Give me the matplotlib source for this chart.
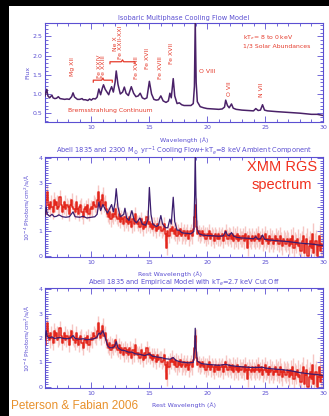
import numpy as np
import matplotlib
matplotlib.use("Agg")
import matplotlib.pyplot as plt
from matplotlib.patches import Rectangle
from matplotlib.ticker import MultipleLocator, FixedLocator

# ---------------- data ----------------
# Panel 1: isobaric multiphase cooling flow model (vertices)
lam1 = [6.0, 6.08, 6.15, 6.25, 6.4, 6.6, 6.7, 6.85, 7.0, 7.15,
        7.3, 7.5, 7.7, 7.9, 8.1, 8.3, 8.42, 8.55, 8.8, 9.0,
        9.2, 9.3, 9.5, 9.7, 9.85, 10.0, 10.15, 10.35, 10.5, 10.65,
        10.8, 10.95, 11.05, 11.2, 11.35, 11.5, 11.6, 11.75, 11.9, 12.05,
        12.15, 12.3, 12.5, 12.7, 12.85, 13.0, 13.2, 13.45, 13.65, 13.85,
        14.05, 14.22, 14.4, 14.6, 14.8, 15.01, 15.2, 15.4, 15.6, 15.8,
        16.0, 16.2, 16.45, 16.65, 16.78, 16.9, 17.07, 17.2, 17.4, 17.6,
        17.8, 18.0, 18.3, 18.6, 18.8, 18.9, 18.97, 19.05, 19.15, 19.4,
        19.7, 20.0, 20.5, 21.0, 21.3, 21.5, 21.6, 21.75, 21.9, 22.1,
        22.25, 22.5, 23.0, 23.5, 24.0, 24.2, 24.4, 24.6, 24.78, 24.95,
        25.2, 26.0, 27.0, 28.0, 29.0, 29.5, 30.0]
flux1 = [0.95, 1.05, 1.12, 0.95, 0.90, 0.97, 0.90, 0.88, 0.89, 0.93,
         0.88, 0.87, 0.86, 0.87, 0.86, 0.93, 1.03, 0.92, 0.86, 0.86,
         0.88, 0.85, 0.85, 0.83, 0.87, 0.84, 0.88, 0.87, 0.92, 1.13,
         0.98, 1.15, 1.24, 1.12, 1.05, 0.98, 1.08, 1.19, 1.05, 1.30,
         1.60, 1.25, 1.00, 1.05, 1.18, 1.02, 0.96, 1.19, 1.02, 0.93,
         0.95, 1.02, 0.90, 0.87, 0.90, 1.33, 1.00, 0.86, 0.84, 0.85,
         0.95, 0.82, 0.78, 0.82, 1.02, 0.90, 1.40, 0.95, 0.75, 0.77,
         0.72, 0.70, 0.70, 0.70, 0.75, 1.20, 2.90, 1.30, 0.80, 0.67,
         0.64, 0.62, 0.61, 0.60, 0.61, 0.66, 0.84, 0.70, 0.64, 0.74,
         0.63, 0.60, 0.58, 0.57, 0.56, 0.62, 0.57, 0.58, 0.72, 0.58,
         0.56, 0.54, 0.52, 0.50, 0.47, 0.47, 0.44]

# Panel 2: 2300 Msun/yr cooling flow + 8 keV ambient model
lam2 = [6.0, 6.1, 6.2, 6.4, 6.6, 6.8, 7.0, 7.2, 7.5, 7.8,
        8.1, 8.42, 8.6, 9.0, 9.3, 9.6, 10.0, 10.3, 10.5, 10.65,
        10.8, 11.0, 11.2, 11.4, 11.55, 11.75, 11.9, 12.05, 12.15, 12.3,
        12.5, 12.8, 12.9, 13.05, 13.25, 13.5, 13.7, 13.9, 14.2, 14.4,
        14.7, 14.9, 15.01, 15.15, 15.3, 15.6, 15.8, 16.0, 16.15, 16.4,
        16.6, 16.78, 16.9, 17.07, 17.2, 17.4, 17.6, 17.8, 18.0, 18.3,
        18.6, 18.85, 18.92, 18.97, 19.03, 19.12, 19.3, 19.6, 20.0, 20.5,
        21.0, 21.4, 21.6, 21.75, 21.9, 22.1, 22.3, 22.6, 23.0, 23.5,
        24.0, 24.2, 24.4, 24.6, 24.78, 24.95, 25.3, 26.0, 26.5, 27.0,
        27.5, 28.0, 28.5, 29.0, 29.5, 30.0]
model2 = [1.62, 2.00, 1.70, 1.62, 1.70, 1.60, 1.62, 1.68, 1.60, 1.58,
          1.60, 1.80, 1.60, 1.58, 1.62, 1.55, 1.58, 1.60, 1.70, 2.20,
          1.85, 2.10, 1.90, 1.75, 1.90, 2.10, 1.80, 2.20, 2.75, 2.00,
          1.60, 1.70, 1.95, 1.55, 1.45, 1.85, 1.45, 1.35, 1.55, 1.30,
          1.25, 1.50, 2.80, 1.70, 1.30, 1.20, 1.25, 1.65, 1.30, 1.15,
          1.15, 1.50, 1.30, 2.40, 1.40, 1.05, 1.05, 0.95, 0.93, 0.92,
          0.90, 1.00, 2.50, 4.20, 2.50, 1.10, 0.90, 0.85, 0.83, 0.82,
          0.80, 0.82, 1.00, 0.85, 0.82, 0.95, 0.80, 0.75, 0.73, 0.72,
          0.70, 0.78, 0.68, 0.70, 0.85, 0.68, 0.65, 0.62, 0.60, 0.58,
          0.55, 0.52, 0.50, 0.48, 0.45, 0.42]

# Panel 3: empirical model with 2.7 keV cut-off
lam3 = [6.0, 6.1, 6.2, 6.4, 6.6, 6.8, 7.0, 7.3, 7.6, 8.0,
        8.2, 8.42, 8.6, 9.0, 9.3, 9.6, 10.0, 10.3, 10.5, 10.65,
        10.8, 11.0, 11.15, 11.3, 11.45, 11.6, 11.8, 12.0, 12.15, 12.3,
        12.6, 12.9, 13.2, 13.5, 13.8, 14.2, 14.6, 15.01, 15.3, 15.7,
        16.0, 16.4, 16.8, 17.07, 17.3, 17.7, 18.0, 18.4, 18.8, 18.92,
        18.97, 19.03, 19.15, 19.5, 20.0, 20.5, 21.0, 21.6, 22.0, 22.5,
        23.0, 23.5, 24.0, 24.8, 25.0, 25.5, 26.0, 26.5, 27.0, 27.5,
        28.0, 28.5, 29.0, 29.5, 30.0]
model3 = [1.90, 2.30, 2.05, 2.00, 2.05, 1.98, 2.00, 2.02, 1.98, 1.97,
          2.00, 2.10, 1.98, 1.95, 1.97, 1.93, 1.95, 1.98, 2.05, 2.20,
          2.15, 2.30, 2.10, 1.85, 1.65, 1.60, 1.60, 1.65, 1.85, 1.60,
          1.50, 1.48, 1.42, 1.42, 1.35, 1.33, 1.28, 1.35, 1.25, 1.22,
          1.20, 1.15, 1.13, 1.20, 1.08, 1.02, 1.00, 0.98, 1.00, 1.60,
          2.40, 1.60, 1.05, 0.95, 0.92, 0.90, 0.88, 0.92, 0.87, 0.84,
          0.82, 0.80, 0.79, 0.80, 0.77, 0.74, 0.72, 0.70, 0.67, 0.63,
          0.58, 0.55, 0.52, 0.50, 0.46]

# Abell 1835 RGS data (0.1 A bins from 6.0 to 30.0 A), shared by panels 2 and 3
data_start, data_step = 6.0, 0.1
data_flux = [
    1.7, 2.3, 2.6, 2.1, 1.9, 2.2, 2.0, 1.8, 2.3, 2.1,   # 6
    2.2, 1.9, 2.0, 2.4, 2.1, 1.8, 2.0, 2.2, 1.9, 2.1,   # 7
    2.0, 1.7, 2.1, 2.3, 2.0, 1.9, 1.8, 2.2, 1.9, 1.7,   # 8
    2.0, 2.1, 1.8, 1.6, 1.9, 2.0, 1.8, 2.1, 1.7, 1.9,   # 9
    2.0, 1.9, 2.2, 2.1, 2.0, 2.3, 2.6, 2.2, 2.0, 2.3,   # 10
    2.5, 2.1, 2.2, 1.9, 1.7, 1.6, 1.8, 1.5, 1.7, 1.6,   # 11
    1.7, 1.9, 1.6, 1.5, 1.7, 1.4, 1.6, 1.5, 1.3, 1.6,   # 12
    1.4, 1.5, 1.3, 1.6, 1.4, 1.2, 1.5, 1.3, 1.7, 1.4,   # 13
    1.3, 1.4, 1.2, 1.5, 1.3, 1.1, 1.4, 1.2, 1.6, 1.3,   # 14
    1.4, 1.2, 1.3, 1.1, 1.3, 1.2, 1.0, 1.3, 1.1, 1.2,   # 15
    1.2, 1.0, 1.1, 1.3, 0.9, 0.3, 1.0, 0.8, 1.1, 1.0,   # 16
    1.2, 1.0, 0.9, 1.1, 0.8, 1.0, 0.9, 1.1, 0.8, 0.9,   # 17
    1.0, 0.8, 0.9, 1.0, 0.7, 0.9, 1.0, 0.8, 1.1, 1.6,   # 18
    2.1, 1.2, 0.9, 1.0, 0.8, 0.9, 1.0, 0.8, 0.9, 0.7,   # 19
    0.9, 0.8, 1.0, 0.7, 0.9, 0.8, 0.6, 0.9, 0.8, 0.7,   # 20
    0.9, 0.7, 0.8, 0.9, 0.6, 0.8, 1.0, 0.8, 0.7, 0.9,   # 21
    0.8, 0.7, 0.9, 0.6, 0.8, 0.7, 0.9, 0.6, 0.8, 0.7,   # 22
    0.7, 0.8, 0.6, 0.9, 0.7, 0.3, 0.8, 0.7, 0.6, 0.8,   # 23
    0.7, 0.6, 0.8, 0.7, 0.9, 0.6, 0.7, 0.8, 0.5, 0.7,   # 24
    0.9, 0.6, 0.7, 0.5, 0.8, 0.6, 0.7, 0.5, 0.6, 0.8,   # 25
    0.6, 0.7, 0.5, 0.8, 0.6, 0.4, 0.7, 0.6, 0.5, 0.7,   # 26
    0.6, 0.4, 0.7, 0.5, 0.8, 0.3, 0.6, 0.5, 0.7, 0.4,   # 27
    0.5, 0.2, 0.6, 0.8, 0.1, 0.5, 0.7, 0.0, 0.4, 0.6,   # 28
    0.3, 0.9, 0.1, 0.5, 0.6, 0.0, 0.4, 0.8, 0.2, 0.5,   # 29
    0.4]                                                # 30
# typical 1-sigma error per 1 A interval (6..30)
err_per_A = [0.30, 0.28, 0.28, 0.28, 0.30, 0.30, 0.28, 0.28, 0.28, 0.28,
             0.28, 0.30, 0.30, 0.28, 0.30, 0.30, 0.32, 0.32, 0.32, 0.34,
             0.36, 0.38, 0.42, 0.45, 0.45]

titles = ["Isobaric Multiphase Cooling Flow Model",
          r"Abell 1835 and 2300 M$_\odot$ yr$^{-1}$ Cooling Flow+kT$_e$=8 keV Ambient Component",
          r"Abell 1835 and Empirical Model with kT$_e$=2.7 keV Cut Off"]

# ---------------- style ----------------
W, H = 329, 416
BLUE = "#5b4fd2"
PURPLE = "#4a2168"
NAVY = "#3b1d6e"
RED = "#e3261c"
PINK = "#f6c6c3"
LRED = "#e53b2c"

fig = plt.figure(figsize=(W / 100, H / 100), dpi=100)
fig.patch.set_facecolor("white")
fig.add_artist(Rectangle((0, 0), 9 / W, 1, transform=fig.transFigure,
                         facecolor="black", edgecolor="none", zorder=0))
fig.add_artist(Rectangle((0, 1 - 6 / H), 1, 6 / H, transform=fig.transFigure,
                         facecolor="black", edgecolor="none", zorder=0))


def rect(l, t, r, b):
    return [l / W, 1 - b / H, (r - l) / W, (b - t) / H]


def style(ax, ymajor, yminor, ylim):
    ax.set_xlim(6, 30)
    ax.set_ylim(*ylim)
    for s in ax.spines.values():
        s.set_color(BLUE)
        s.set_linewidth(0.8)
    ax.xaxis.set_major_locator(FixedLocator([10, 15, 20, 25, 30]))
    ax.xaxis.set_minor_locator(MultipleLocator(1))
    ax.yaxis.set_major_locator(MultipleLocator(ymajor))
    ax.yaxis.set_minor_locator(MultipleLocator(yminor))
    ax.tick_params(which="both", direction="in", top=True, right=True,
                   colors=BLUE, labelsize=4.5, pad=2, width=0.6)
    ax.tick_params(which="major", length=4)
    ax.tick_params(which="minor", length=2)


# ---------------- panel 1 ----------------
ax1 = fig.add_axes(rect(45, 23, 323, 122))
style(ax1, 0.5, 0.1, (0.27, 2.85))
ax1.yaxis.set_major_formatter(matplotlib.ticker.FormatStrFormatter("%.1f"))
ax1.plot(lam1, flux1, color=PURPLE, lw=1.1, zorder=3)
ax1.set_title(titles[0], color=BLUE, fontsize=4.8, pad=2)
ax1.set_xlabel("Wavelength (Å)", color=BLUE, fontsize=4.5)
ax1.xaxis.set_label_coords(0.5, -0.15)
ax1.set_ylabel("Flux", color=BLUE, fontsize=4.5)
ax1.yaxis.set_label_coords(-0.054, 0.5)

fs = 4.4
rot_labels = [("Mg XII", 8.35, 1.72), ("Fe XXIV", 10.68, 1.72), ("Fe XXIII", 11.08, 1.72),
              ("Ne X", 12.05, 2.31), ("Fe XXII-XXI", 12.53, 2.34), ("Fe XVIII", 13.92, 1.68),
              ("Fe XVII", 14.89, 1.93), ("Fe XVIII", 15.93, 1.68), ("Fe XVII", 16.94, 2.05),
              ("O VII", 21.92, 1.15), ("N VII", 24.71, 1.12)]
for txt, x, y in rot_labels:
    ax1.text(x, y, txt, rotation=90, color=LRED, fontsize=fs, ha="center", va="center")
ax1.text(19.33, 1.58, "O VIII", color=LRED, fontsize=fs, ha="left", va="center")
ax1.text(23.1, 2.46, r"kT$_e$= 8 to 0 keV", color=LRED, fontsize=fs, ha="left", va="center")
ax1.text(23.1, 2.25, "1/3 Solar Abundances", color=LRED, fontsize=fs, ha="left", va="center")
ax1.text(8.0, 0.56, "Bremsstrahlung Continuum", color=LRED, fontsize=fs, ha="left", va="center")
# brackets
for x0, x1, y in [(10.17, 11.81, 1.36), (11.61, 13.77, 1.84)]:
    xm = 0.5 * (x0 + x1)
    ax1.plot([x0, x0, xm - 0.1, xm, xm + 0.1, x1, x1],
             [y - 0.05, y, y, y + 0.05, y, y, y - 0.05], color=LRED, lw=0.9)

# ---------------- panels 2 & 3 ----------------
dflux = np.array(data_flux)
dlam = data_start + data_step * np.arange(len(dflux))
derr = np.array([err_per_A[min(int(round(l - 6.0, 6)), len(err_per_A) - 1)] for l in dlam])

ylab = r"10$^{-4}$ Photons/cm$^2$/s/Å"
for i, (top, bot, lam, mod, xlc) in enumerate([(157, 257, lam2, model2, 0.45),
                                                (288, 388, lam3, model3, 0.5)]):
    ax = fig.add_axes(rect(45, top, 323, bot))
    style(ax, 1, 0.1, (-0.05, 4.05))
    ax.vlines(dlam, dflux - derr, dflux + derr, color=PINK, lw=1.0, zorder=1)
    ax.plot(dlam, dflux, color=RED, lw=1.1, drawstyle="steps-mid", zorder=2)
    ax.plot(lam, mod, color=NAVY, lw=0.9, zorder=3)
    ax.set_title(titles[i + 1], color=BLUE, fontsize=4.8, pad=2)
    ax.set_xlabel("Rest Wavelength (Å)", color=BLUE, fontsize=4.5)
    ax.xaxis.set_label_coords(xlc, -0.14)
    ax.set_ylabel(ylab, color=BLUE, fontsize=4.3)
    ax.yaxis.set_label_coords(-0.047, 0.5)

fig.text(282 / W, 1 - 167 / H, "XMM RGS", color="#f0301e", fontsize=10.5,
         family="Liberation Sans", ha="center", va="center")
fig.text(282 / W, 1 - 185 / H, "spectrum", color="#f0301e", fontsize=10.5,
         family="Liberation Sans", ha="center", va="center")
fig.text(11 / W, 1 - 406 / H, "Peterson & Fabian 2006", color="#e8912c", fontsize=8.5,
         family="Liberation Sans", ha="left", va="center")

fig.savefig("out.png", dpi=100, facecolor=fig.get_facecolor())
